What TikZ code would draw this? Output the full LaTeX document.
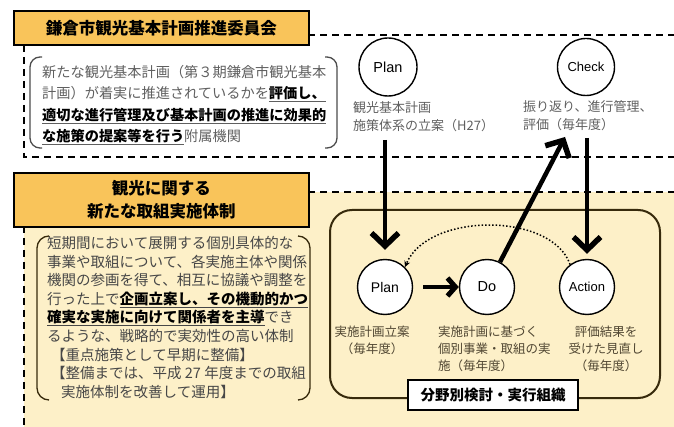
\documentclass[tikz,border=0pt]{standalone}
\usepackage{fontspec}
\setmainfont{Noto Sans CJK JP}
\newfontfamily\latinsf{Liberation Sans}
\usetikzlibrary{arrows.meta}
\definecolor{orangeT}{RGB}{249,196,90}
\definecolor{cream}{RGB}{253,240,200}
\definecolor{brownL}{RGB}{55,42,12}
\definecolor{txtgray}{RGB}{95,95,95}
\definecolor{txtbrown}{RGB}{80,70,50}
\newcommand{\ul}[1]{\underline{\textbf{\color{black}#1}}}
\begin{document}
\begin{tikzpicture}[x=1pt,y=-1pt,
  dline/.style={line width=2pt, dash pattern=on 7pt off 5pt},
  titlebox/.style={draw=black, line width=1.6pt, fill=orangeT, inner sep=0pt, anchor=north west, font=\bfseries\fontsize{16.5}{23}\selectfont, align=center},
  brk/.style={line width=1.3pt, rounded corners=10pt},
  circ/.style={circle, draw, line width=1.4pt, fill=white, inner sep=0pt},
  bigarrow/.style={line width=4.5pt, -{Straight Barb[length=13pt,width=27pt,line width=5.5pt 0]}},
  midarrow/.style={line width=4.5pt, -{Straight Barb[length=8pt,width=18pt,line width=5pt 0]}},
  dotarrow/.style={line width=1.5pt, dash pattern=on 1.5pt off 2pt, -{Stealth[length=6pt,width=6pt]}},
  blocktext/.style={anchor=north west, inner sep=0pt, align=left},
  smalltext/.style={inner sep=0pt, text=txtbrown, font=\fontsize{12.5}{17}\selectfont}
]
\useasboundingbox (0,0) rectangle (674,427);
% cream background of lower section
\fill[cream] (24,192) rectangle (674,427);
% dashed frames
\draw[dline] (308,35) -- (674,35);
\draw[dline] (24,45) -- (24,157) -- (674,157);
\draw[dline] (308,192) -- (674,192);
\draw[dline] (24,226) -- (24,427);
% title boxes
\node[titlebox, minimum width=295pt, minimum height=34pt] (title1) at (13,10) {鎌倉市観光基本計画推進委員会};
\node[titlebox, minimum width=295pt, minimum height=54pt] (title2) at (13,172) {観光に関する\\新たな取組実施体制};
% top bracket box
\draw[brk, draw=black!70] (42,57) -- (30,57) -- (30,148) -- (42,148);
\draw[brk, draw=black!70] (325,57) -- (337,57) -- (337,148) -- (325,148);
\node[blocktext, text=txtgray, font=\fontsize{14.2}{21.5}\selectfont] (toptext) at (42,65) {新たな観光基本計画（第３期鎌倉市観光基本\\計画）が着実に推進されているかを\ul{評価し、}\\\ul{適切な進行管理及び基本計画の推進に効果的}\\\ul{な施策の提案等を行う}附属機関};
% bottom bracket box
\draw[brk, draw=brownL, rounded corners=12pt] (49,236) -- (37,236) -- (37,400) -- (49,400);
\draw[brk, draw=brownL, rounded corners=12pt] (298,236) -- (310,236) -- (310,400) -- (298,400);
\node[blocktext, text=black!72, font=\fontsize{14.5}{18.6}\selectfont] (bottext) at (47,236) {短期間において展開する個別具体的な\\事業や取組について、各実施主体や関係\\機関の参画を得て、相互に協議や調整を\\行った上で\ul{企画立案し、その機動的かつ}\\\ul{確実な実施に向けて関係者を主導}でき\\るような、戦略的で実効性の高い体制\\\hspace{4pt}【重点施策として早期に整備】\\\hspace{4pt}【整備までは、平成 27 年度までの取組\\\hspace{14pt}実施体制を改善して運用】};
% rounded organization box
\draw[draw=brownL, line width=2pt, rounded corners=22pt] (330,210) rectangle (660,398);
\node[draw=black, line width=1.3pt, fill=white, minimum width=170pt, minimum height=30pt, inner sep=0pt, font=\bfseries\fontsize{14.5}{16}\selectfont] (org) at (493,395) {分野別検討・実行組織};
% top circles
\node[circ, minimum size=58pt, font=\latinsf\fontsize{14.5}{16}\selectfont] (plan1) at (388,67) {Plan};
\node[circ, minimum size=57pt, font=\latinsf\fontsize{13}{15}\selectfont] (check) at (586,67) {Check};
\node[blocktext, text=txtgray, font=\fontsize{13}{18}\selectfont] (plantext1) at (353,101) {観光基本計画\\施策体系の立案（H27）};
\node[blocktext, text=txtgray, font=\fontsize{13}{18}\selectfont] (checktext) at (523,100) {振り返り、進行管理、\\評価（毎年度）};
% bottom circles
\node[circ, minimum size=55pt, font=\latinsf\fontsize{14}{16}\selectfont] (plan2) at (385,287) {Plan};
\node[circ, minimum size=55pt, font=\latinsf\fontsize{14.5}{16}\selectfont] (do) at (487,287) {Do};
\node[circ, minimum size=55pt, font=\latinsf\fontsize{13}{15}\selectfont] (action) at (587,287) {Action};
\node[smalltext, align=center, anchor=north] (plantext2) at (372,326) {実施計画立案\\（毎年度）};
\node[smalltext, align=left, anchor=north west] (dotext) at (438,326) {実施計画に基づく\\個別事業・取組の実\\施（毎年度）};
\node[smalltext, align=center, anchor=north] (actiontext) at (606,326) {評価結果を\\受けた見直し\\（毎年度）};
% arrows
\coordinate (planstart) at (385,140);
\coordinate (checkstart) at (587,138);
\coordinate (checktip) at (565,137);
\coordinate (c1) at (552,212);
\coordinate (c2) at (428,212);
\draw[bigarrow, shorten >=9pt] (planstart) -- (plan2);
\draw[bigarrow, shorten >=5pt] (checkstart) -- (action);
\draw[bigarrow] (do) -- (checktip);
\draw[midarrow] (plan2.east) ++(10,0) coordinate (pd) (pd) -- (do.west);
\draw[dotarrow] (action.127) .. controls (c1) and (c2) .. (plan2.45);
\end{tikzpicture}
\end{document}
